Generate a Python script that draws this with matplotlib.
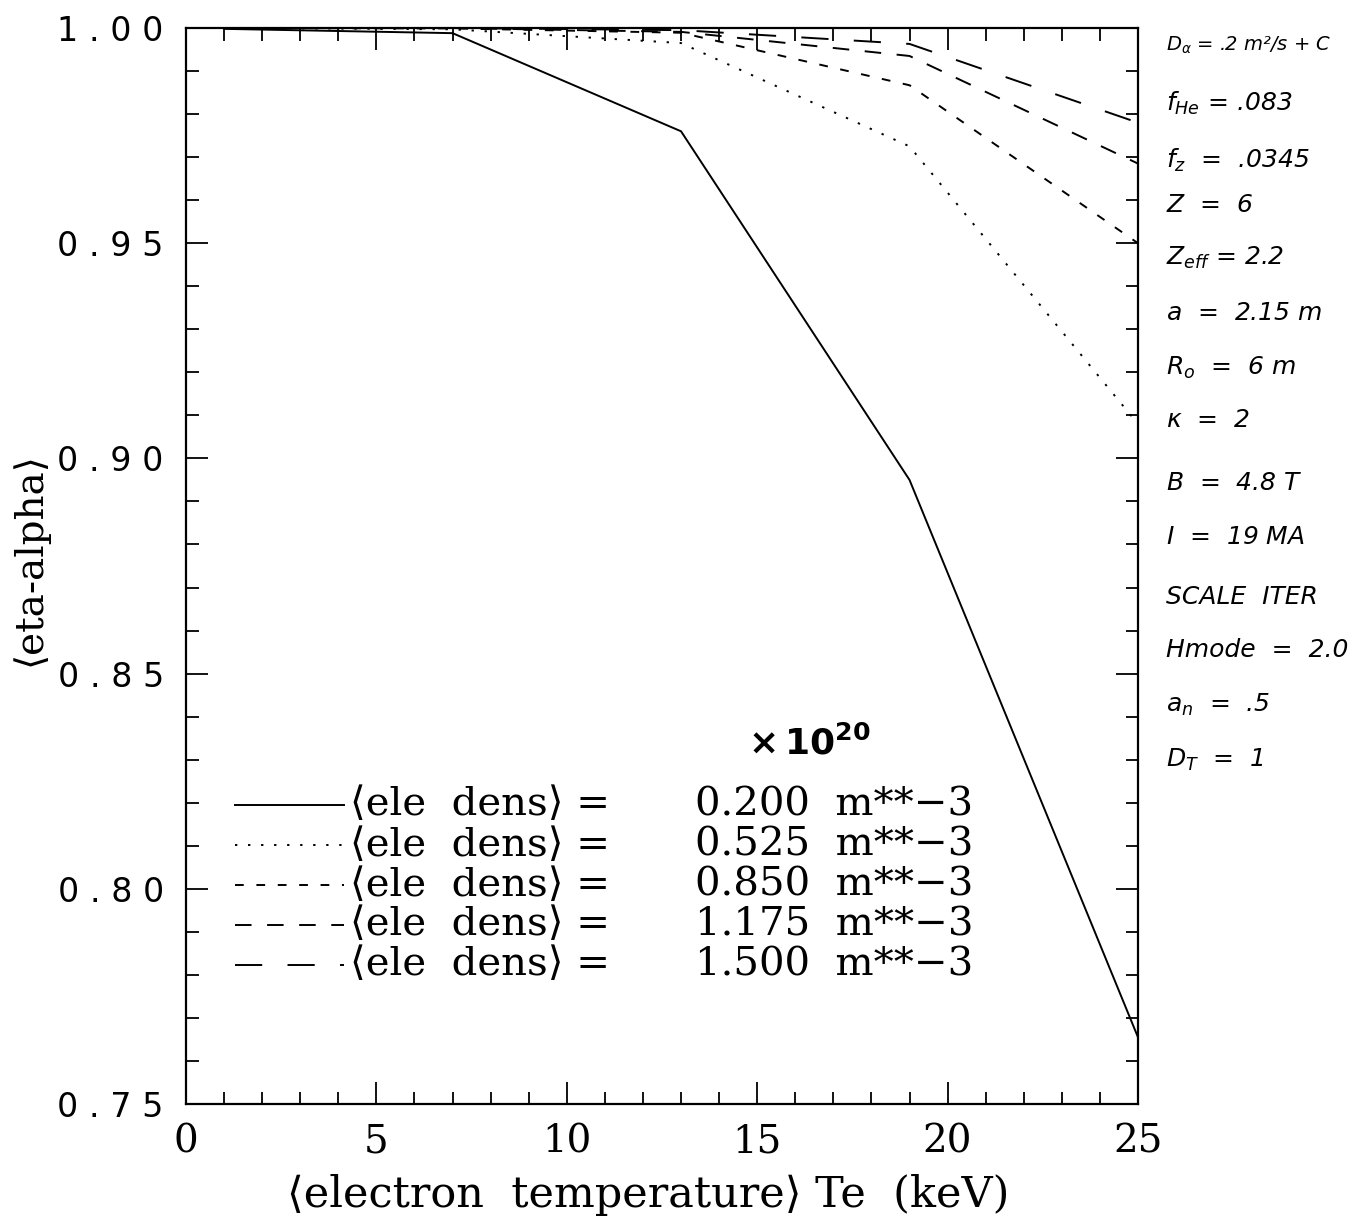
import matplotlib
matplotlib.use("Agg")
import matplotlib.pyplot as plt
from matplotlib.ticker import MultipleLocator

# electron temperature (keV) at the computed points
te = [1, 7, 13, 19, 25]

# <eta-alpha> for each average electron density
eta_0200 = [0.9998, 0.9988, 0.9760, 0.8950, 0.7655]
eta_0525 = [1.0000, 0.9997, 0.9965, 0.9725, 0.9080]
eta_0850 = [1.0000, 0.9999, 0.9989, 0.9867, 0.9500]
eta_1175 = [1.0000, 1.0000, 0.9991, 0.9935, 0.9685]
eta_1500 = [1.0000, 1.0000, 0.9995, 0.9963, 0.9780]

dens_labels = ["0.200", "0.525", "0.850", "1.175", "1.500"]

x_ticks = [0, 5, 10, 15, 20, 25]
x_tick_labels = ["0", "5", "10", "15", "20", "25"]
y_ticks = [0.75, 0.80, 0.85, 0.90, 0.95, 1.00]
y_tick_labels = ["0 . 7 5", "0 . 8 0", "0 . 8 5", "0 . 9 0", "0 . 9 5", "1 . 0 0"]

# hand-written run parameters on the right margin
params = [
    r"$D_\alpha$ = .2 m²/s + C",
    r"$f_{He}$ = .083",
    r"$f_z$  =  .0345",
    r"$Z$  =  6",
    r"$Z_{eff}$ = 2.2",
    r"$a$  =  2.15 m",
    r"$R_o$  =  6 m",
    r"$\kappa$  =  2",
    r"$B$  =  4.8 T",
    r"$I$  =  19 MA",
    "SCALE  ITER",
    "Hmode  =  2.0",
    r"$a_n$  =  .5",
    r"$D_T$  =  1",
]
param_y = [45, 103, 160, 205, 258, 313, 368, 420, 483, 537, 597, 650, 705, 760]

SERIF = ["DejaVu Serif", "DejaVu Sans"]
INK = "black"

fig = plt.figure(figsize=(13.66, 12.30), dpi=100)
ax = fig.add_axes([186 / 1366, 1 - 1104 / 1230, 952 / 1366, 1076 / 1230])

series = [eta_0200, eta_0525, eta_0850, eta_1175, eta_1500]
styles = ["-", (0, (1.2, 5.5)), (0, (4.5, 6.5)), (0, (8.5, 8)), (0, (14, 13))]
for vals, ls in zip(series, styles):
    ax.plot(te, vals, color=INK, lw=1.4, ls=ls, solid_capstyle="butt",
            dash_capstyle="butt")

ax.set_xlim(0, 25)
ax.set_ylim(0.75, 1.00)
ax.set_xticks(x_ticks)
ax.set_xticklabels(x_tick_labels, fontsize=28, family=SERIF)
ax.set_yticks(y_ticks)
ax.set_yticklabels(y_tick_labels, fontsize=24, family="DejaVu Sans")
ax.xaxis.set_minor_locator(MultipleLocator(1))
ax.yaxis.set_minor_locator(MultipleLocator(0.01))
ax.tick_params(which="both", direction="in", top=True, right=True, width=1.3,
               color=INK)
ax.tick_params(which="major", length=16)
ax.tick_params(which="minor", length=9)
ax.tick_params(axis="x", which="major", pad=14)
ax.tick_params(axis="y", which="major", pad=16)
for s in ax.spines.values():
    s.set_linewidth(1.6)

ax.set_xlabel("⟨electron  temperature⟩ Te  (keV)", fontsize=31, family=SERIF,
              va="center")
ax.xaxis.set_label_coords(0.485, -0.085)
ax.set_ylabel("⟨eta-alpha⟩", fontsize=28, family=SERIF, va="center")
ax.yaxis.set_label_coords(-0.164, 0.506)

# legend drawn as in the original plot: sample line, label, value
row_y = [0.278, 0.2405, 0.2035, 0.1664, 0.1292]
for yy, ls, lab in zip(row_y, styles, dens_labels):
    ax.plot([0.0515, 0.166], [yy, yy], color=INK, lw=1.4, ls=ls,
            transform=ax.transAxes, clip_on=False)
    ax.text(0.172, yy, "⟨ele  dens⟩ =", fontsize=29, family=SERIF,
            va="center", ha="left", transform=ax.transAxes)
    ax.text(0.535, yy, f"{lab}  m**−3", fontsize=29, family=SERIF,
            va="center", ha="left", transform=ax.transAxes)

ax.text(0.59, 0.335, r"$\mathbf{\times\,10^{20}}$", fontsize=26,
        transform=ax.transAxes, ha="left", va="center")

for i, (txt, py) in enumerate(zip(params, param_y)):
    fig.text(1166 / 1366, 1 - py / 1230, txt, fontsize=14 if i == 0 else 18,
             style="italic", ha="left", va="center", family="DejaVu Sans")

fig.savefig("out.png", dpi=100)
